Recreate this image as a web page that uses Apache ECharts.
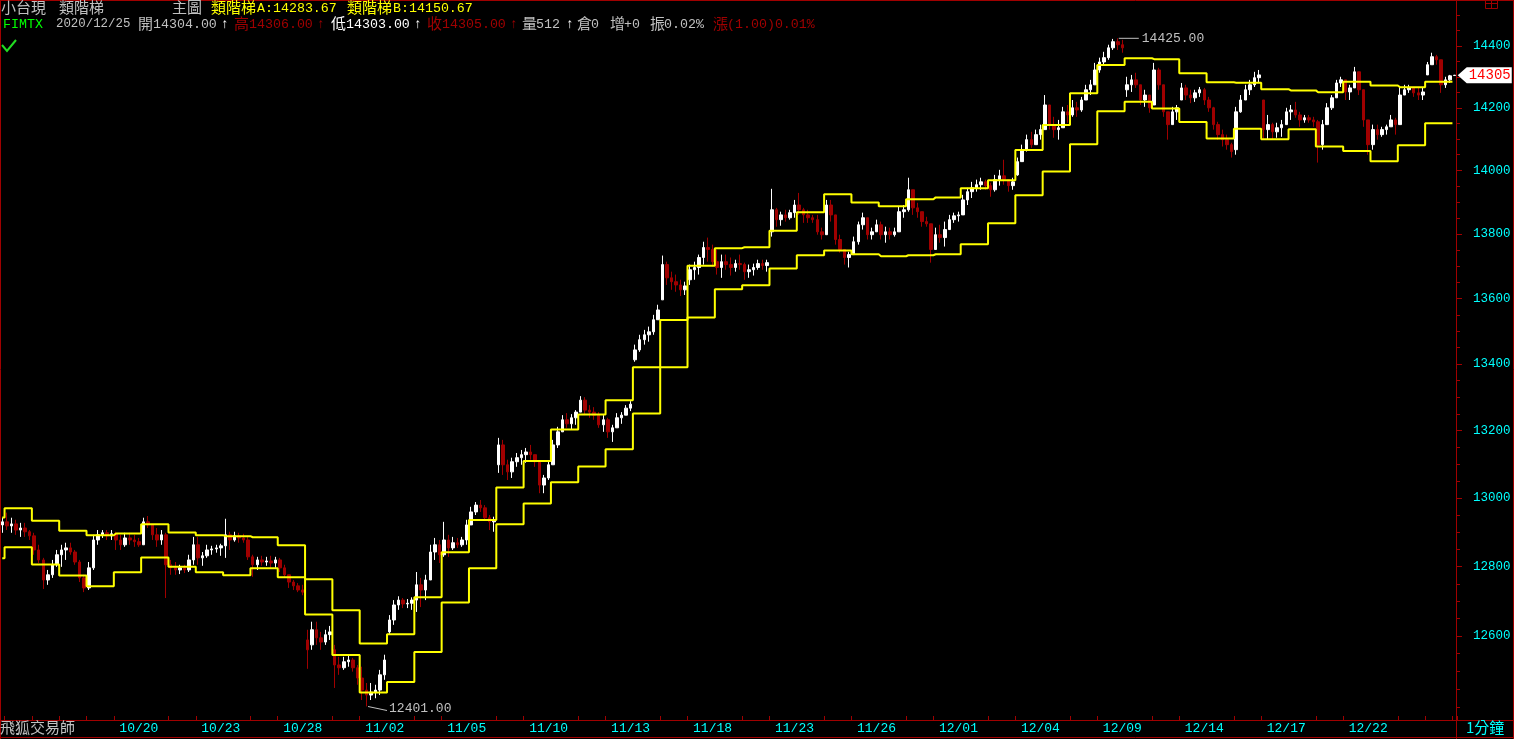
<!DOCTYPE html>
<html><head><meta charset="utf-8">
<script src="https://cdn.jsdelivr.net/npm/echarts@6/dist/echarts.min.js"></script>
<style>html,body{margin:0;padding:0;background:#000;overflow:hidden}#c{width:1514px;height:739px}</style>
</head><body><div id="c"></div>
<script>
// ---------- data ----------
const tradingDays = ['10/12','10/13','10/14','10/15','10/16','10/19','10/20','10/21','10/22','10/23','10/26','10/27','10/28','10/29','10/30',
 '11/02','11/03','11/04','11/05','11/06','11/09','11/10','11/11','11/12','11/13','11/16','11/17','11/18','11/19','11/20','11/23','11/24','11/25','11/26','11/27','11/30',
 '12/01','12/02','12/03','12/04','12/07','12/08','12/09','12/10','12/11','12/14','12/15','12/16','12/17','12/18','12/21','12/22','12/23','12/24','12/25'];
const xLabelDays = ['10/20','10/23','10/28','11/02','11/05','11/10','11/13','11/18','11/23','11/26','12/01','12/04','12/09','12/14','12/17','12/22'];
const yLabelValues = [12600,12800,13000,13200,13400,13600,13800,14000,14200,14400];
// 類階梯A / 類階梯B, one value per trading day
const stairA = [12943,12970,12933,12904,12891,12896,12923,12899,12891,12888,12885,12862,12662,12546,12440,12470,12555,12696,12795,12923,12984,13046,13093,13144,13251,13534,13701,13756,13759,13810,13868,13925,13899,13887,13909,13915,13944,13969,14065,14145,14247,14338,14360,14357,14311,14282,14281,14260,14256,14250,14284,14272,14266,14283.67,null];
const stairB = [12824,12856,12806,12774,12743,12783,12826,12799,12783,12775,12795,12769,12763,12674,12579,12605,12711,12841,12935,13031,13109,13203,13248,13291,13390,13390,13542,13629,13641,13693,13734,13749,13737,13731,13734,13737,13768,13834,13922,13997,14083,14189,14219,14198,14154,14102,14133,14099,14131,14076,14062,14029,14080,14150.67,null];
// candles [open, close, low, high]
const barsOct = [
[12921,12930,12898,12942],
[12930,12918,12906,12957],[12918,12924,12898,12942],[12924,12906,12892,12936],[12906,12912,12886,12927],[12912,12901,12886,12927],[12901,12889,12877,12906],
[12889,12848,12834,12898],[12848,12819,12810,12863],[12819,12761,12735,12825],[12761,12776,12747,12790],[12776,12805,12767,12819],[12805,12834,12799,12848],
[12834,12848,12799,12863],[12848,12854,12819,12869],[12854,12842,12834,12869],[12842,12813,12805,12848],[12813,12767,12755,12819],[12767,12738,12726,12776],
[12738,12796,12732,12813],[12796,12877,12790,12892],[12877,12892,12863,12906],[12892,12898,12883,12906],[12898,12889,12877,12906],[12889,12895,12877,12906],
[12895,12877,12848,12901],[12877,12863,12848,12892],[12863,12883,12857,12898],[12883,12877,12863,12898],[12877,12872,12857,12892],[12872,12863,12857,12883],
[12863,12930,12863,12942],[12930,12921,12912,12947],[12921,12892,12877,12921],[12892,12877,12857,12912],[12877,12892,12863,12906],[12892,12805,12709,12898],
[12805,12796,12776,12819],[12796,12790,12776,12813],[12790,12796,12778,12805],[12796,12790,12781,12805],[12790,12819,12784,12834],[12819,12863,12805,12886],
[12863,12825,12805,12886],[12825,12831,12802,12842],[12831,12848,12825,12863],[12848,12851,12834,12860],[12851,12854,12840,12863],[12854,12860,12831,12866],
[12860,12892,12825,12939],[12892,12877,12848,12901],[12877,12889,12872,12901],[12889,12883,12869,12898],[12883,12877,12869,12895],[12877,12828,12819,12889],
[12828,12805,12770,12834],[12805,12819,12790,12828],[12819,12813,12802,12831],[12813,12816,12802,12828],[12816,12810,12796,12831],[12810,12819,12796,12828],
[12819,12796,12784,12825],[12796,12776,12767,12805],[12776,12755,12738,12776],[12755,12744,12732,12761],[12744,12732,12726,12752],[12732,12726,12717,12747],
[12589,12561,12507,12618],[12575,12618,12561,12641],[12618,12595,12575,12641],[12595,12583,12561,12612],[12583,12604,12575,12618],[12604,12612,12589,12629],
[12561,12518,12453,12575],[12518,12510,12490,12541],[12510,12527,12504,12541],[12527,12532,12513,12547],[12532,12510,12499,12538],[12510,12481,12462,12518],
[12481,12447,12419,12513],[12447,12433,12401,12467],[12433,12441,12419,12467],[12441,12447,12424,12462],[12447,12490,12433,12504],[12490,12532,12476,12547]
];
const barsNov = [
[12612,12646,12604,12660],[12646,12689,12632,12703],[12689,12703,12675,12714],[12703,12692,12680,12709],[12692,12694,12680,12706],[12694,12703,12675,12711],
[12703,12747,12669,12784],[12747,12732,12683,12767],[12732,12761,12703,12776],[12761,12842,12761,12863],[12842,12863,12819,12883],[12863,12834,12810,12877],
[12834,12877,12828,12930],[12877,12854,12828,12892],[12854,12869,12848,12886],[12869,12863,12854,12883],[12863,12877,12857,12886],[12877,12921,12863,12936],
[12921,12959,12921,12974],[12959,12979,12950,12988],[12979,12971,12959,12994],[12971,12942,12936,12979],[12942,12930,12906,12950],[12930,12936,12901,12945],
[13098,13157,13074,13178],[13157,13098,13068,13172],[13098,13077,13053,13113],[13077,13107,13059,13119],[13107,13119,13092,13133],[13119,13128,13098,13142],
[13128,13136,13104,13148],[13136,13128,13113,13157],[13128,13107,13092,13128],[13107,13038,13014,13107],[13038,13059,13014,13068],[13059,13098,13053,13107],
[13098,13157,13098,13172],[13157,13196,13148,13211],[13196,13232,13196,13246],[13232,13220,13208,13252],[13220,13238,13202,13249],[13238,13255,13217,13261],
[13255,13291,13255,13303],[13291,13261,13246,13300],[13261,13255,13238,13276],[13255,13246,13232,13270],[13246,13217,13208,13255],[13217,13232,13196,13246],
[13232,13196,13178,13238],[13196,13208,13166,13217],[13208,13238,13208,13252],[13238,13246,13220,13255],[13246,13267,13246,13276],[13267,13279,13258,13288],
[13413,13443,13407,13459],[13443,13474,13437,13489],[13474,13489,13459,13504],[13489,13498,13468,13514],[13498,13535,13489,13550],[13535,13565,13535,13581],
[13596,13705,13596,13733],[13705,13664,13642,13714],[13664,13652,13627,13683],[13652,13642,13621,13674],[13642,13627,13608,13658],[13627,13639,13611,13652],
[13658,13689,13642,13705],[13689,13696,13658,13714],[13696,13727,13674,13736],[13727,13758,13705,13776],[13758,13752,13714,13789],[13752,13714,13699,13767],
[13714,13696,13674,13752],[13696,13714,13664,13736],[13714,13705,13689,13736],[13705,13696,13671,13727],[13696,13708,13683,13720],[13708,13705,13689,13736],
[13705,13683,13658,13711],[13683,13689,13664,13705],[13689,13696,13671,13708],[13696,13708,13689,13720],[13708,13702,13689,13720],[13702,13711,13683,13720],
[13807,13876,13792,13942],[13876,13845,13823,13882],[13845,13860,13826,13870],[13860,13851,13839,13876],[13851,13867,13845,13876],[13867,13891,13851,13907],
[13891,13876,13860,13929],[13876,13860,13835,13882],[13860,13851,13835,13876],[13851,13845,13835,13860],[13845,13807,13798,13860],[13807,13798,13783,13820],
[13798,13891,13798,13907],[13891,13860,13839,13907],[13860,13783,13767,13860],[13783,13752,13742,13798],[13752,13727,13705,13752],[13727,13736,13696,13745],
[13736,13776,13736,13792],[13776,13829,13767,13839],[13829,13851,13814,13867],[13851,13798,13783,13851],[13798,13807,13783,13820],[13807,13829,13807,13845],
[13829,13798,13783,13839],[13798,13807,13773,13823],[13807,13798,13783,13820],[13798,13807,13792,13820],[13807,13870,13807,13885],[13870,13876,13851,13891],
[13876,13939,13870,13977],[13939,13882,13860,13939],[13882,13870,13851,13898],[13870,13839,13823,13870],[13839,13832,13823,13854],[13832,13752,13711,13832],
[13752,13798,13752,13820],[13798,13789,13773,13829],[13789,13814,13761,13839],[13814,13845,13814,13860],[13845,13857,13835,13867],[13857,13860,13839,13870]
];
const barsDec = [
[13860,13907,13860,13923],[13907,13933,13891,13945],[13933,13945,13913,13964],[13945,13955,13933,13971],[13955,13964,13939,13977],[13964,13952,13939,13971],
[13952,13939,13917,13961],[13939,13971,13933,13986],[13971,13983,13952,14002],[13983,13971,13955,14034],[13971,13952,13933,13971],[13952,13964,13939,13977],
[13986,14028,13983,14041],[14028,14066,14028,14082],[14066,14098,14060,14114],[14098,14082,14072,14123],[14082,14114,14082,14130],[14114,14130,14098,14146],
[14130,14209,14130,14241],[14209,14146,14130,14209],[14146,14130,14104,14171],[14130,14136,14098,14161],[14136,14187,14136,14203],[14187,14177,14152,14209],
[14177,14200,14171,14225],[14200,14193,14171,14219],[14193,14225,14187,14235],[14225,14258,14225,14274],[14258,14274,14241,14290],[14274,14322,14274,14345],
[14322,14348,14313,14362],[14348,14362,14339,14381],[14362,14394,14355,14404],[14394,14414,14387,14423],[14414,14404,14387,14425],[14404,14394,14378,14420],
[14258,14274,14235,14300],[14274,14290,14251,14306],[14290,14274,14264,14313],[14274,14225,14209,14274],[14225,14241,14203,14258],[14241,14200,14184,14241],
[14209,14322,14209,14345],[14322,14274,14258,14329],[14274,14187,14171,14274],[14187,14146,14098,14187],[14146,14187,14146,14203],[14187,14200,14161,14209],
[14225,14264,14225,14280],[14264,14241,14225,14274],[14241,14232,14215,14258],[14232,14248,14219,14258],[14248,14258,14235,14267],[14258,14225,14209,14264],
[14225,14200,14187,14235],[14200,14146,14130,14203],[14146,14114,14098,14155],[14114,14098,14076,14130],[14098,14082,14066,14114],[14082,14060,14041,14088],
[14066,14187,14050,14203],[14187,14225,14184,14241],[14225,14258,14225,14274],[14258,14274,14241,14290],[14274,14297,14267,14316],[14297,14306,14280,14322],
[14225,14130,14098,14225],[14130,14146,14098,14177],[14146,14123,14098,14152],[14123,14136,14104,14152],[14136,14146,14107,14161],[14146,14187,14146,14200],
[14187,14193,14161,14209],[14193,14177,14168,14219],[14177,14161,14139,14187],[14161,14168,14152,14177],[14168,14161,14152,14177],[14161,14155,14139,14171],
[14155,14082,14025,14161],[14082,14146,14066,14161],[14146,14200,14146,14215],[14200,14232,14193,14241],[14232,14280,14232,14290],[14280,14290,14267,14300],
[14290,14251,14225,14290],[14251,14264,14225,14274],[14264,14316,14264,14332],[14316,14258,14241,14316],[14258,14161,14139,14258],[14161,14082,14050,14161],
[14082,14130,14066,14146],[14130,14114,14098,14146],[14114,14130,14107,14139],[14130,14139,14114,14146],[14139,14161,14139,14177],[14161,14146,14114,14168],
[14146,14241,14146,14267],[14241,14258,14241,14274],[14258,14264,14248,14274],[14264,14248,14235,14264],[14248,14241,14225,14264],[14241,14251,14225,14264],
[14306,14339,14306,14348],[14339,14365,14339,14378],[14365,14355,14339,14371],[14355,14274,14248,14355],[14274,14290,14264,14300],[14290,14303,14280,14306],
[14304,14305,14303,14306]
];
const headerInfo = {date:'2020/12/25', volume:'512', oi:'0', oiChg:'+0', amp:'0.02%', chg:'(1.00)0.01%'};

// ---------- build ----------
const slotsPerDay = 6;
const bars = barsOct.concat(barsNov, barsDec);
const lastDay = tradingDays.length - 1;
function dayOfSlot(k) { return k === 0 ? 0 : Math.min(lastDay, Math.floor((k - 1) / slotsPerDay) + 1); }
const categories = bars.map((b, k) => tradingDays[dayOfSlot(k)] + '|' + k);
const lineA = bars.map((b, k) => stairA[dayOfSlot(k)]);
const lineB = bars.map((b, k) => stairB[dayOfSlot(k)]);
const labelSlots = new Map();
xLabelDays.forEach(d => { const n = tradingDays.indexOf(d); labelSlots.set(slotsPerDay * (n - 1), d); });
const tickSlots = new Set();
for (let n = 1; n < tradingDays.length; n++) {
  if (xLabelDays.indexOf(tradingDays[n]) < 0) tickSlots.add(1 + slotsPerDay * (n - 1));
}
const minorTicks = [];
for (let v = 12400; v <= 14500; v += 50) minorTicks.push(v);
const last = bars[bars.length - 1];

const RED = '#a00000', FRAME = '#a00000', GRAY = '#c0c0c0', YEL = '#ffff00', CYAN = '#00ffff';
const MONO = "'Liberation Mono','DejaVu Sans Mono','Noto Sans CJK TC',monospace";
const CJK = "'Noto Sans CJK TC','Noto Sans CJK SC',sans-serif";
const YMIN = 12363, YMAX = 14544;

function txt(x, y, s, color, cjk, size) {
  return {type:'text', left:x, top:y, z:100, style:{text:s, fill:color, font:(size || (cjk ? 15 : 13.3)) + 'px ' + (cjk ? CJK : MONO)}};
}
const f2 = v => v.toFixed(2);
const header = [
  txt(1, 0, '小台現', GRAY, true), txt(59, 0, '類階梯', GRAY, true), txt(172, 0, '主圖', GRAY, true),
  txt(211, 0, '類階梯', YEL, true), txt(257, 2, 'A:' + f2(stairA[lastDay - 1]), YEL, false),
  txt(347, 0, '類階梯', YEL, true), txt(393, 2, 'B:' + f2(stairB[lastDay - 1]), YEL, false),
  txt(3, 18, 'FIMTX', '#00ff00', false), txt(56, 18, headerInfo.date, GRAY, false, 12.4),
  txt(138, 16, '開', GRAY, true), txt(153, 18, f2(last[0]), GRAY, false), txt(221, 18, '↑', '#ffffff', false),
  txt(234, 16, '高', RED, true), txt(249, 18, f2(last[3]), RED, false), txt(317, 18, '↑', RED, false),
  txt(331, 16, '低', '#ffffff', true), txt(346, 18, f2(last[2]), '#ffffff', false), txt(414, 18, '↑', '#ffffff', false),
  txt(427, 16, '收', RED, true), txt(442, 18, f2(last[1]), RED, false), txt(510, 18, '↑', RED, false),
  txt(522, 16, '量', GRAY, true), txt(536, 18, headerInfo.volume, GRAY, false), txt(566, 18, '↑', '#ffffff', false),
  txt(577, 16, '倉', GRAY, true), txt(591, 18, headerInfo.oi, GRAY, false),
  txt(610, 16, '增', GRAY, true), txt(624, 18, headerInfo.oiChg, GRAY, false),
  txt(650, 16, '振', GRAY, true), txt(664, 18, headerInfo.amp, GRAY, false),
  txt(713, 16, '漲', RED, true), txt(727, 18, headerInfo.chg, RED, false),
  txt(0, 720, '飛狐交易師', GRAY, true, 15),
  txt(1466, 720, '1分鐘', CYAN, true, 15)
];
function ln(x1, y1, x2, y2, c, w) { return {type:'line', z:90, shape:{x1, y1, x2, y2}, style:{stroke:c, lineWidth:w || 1}}; }
const frame = [
  ln(0, 0.5, 1514, 0.5, FRAME), ln(0.5, 0, 0.5, 739, FRAME), ln(1513.5, 0, 1513.5, 739, FRAME),
  ln(0, 720.5, 1514, 720.5, FRAME), ln(0, 737.5, 1514, 737.5, FRAME), ln(1456.5, 0, 1456.5, 739, FRAME),
  {type:'rect', z:90, shape:{x:1485.5, y:0.5, width:12, height:8}, style:{fill:'none', stroke:FRAME, lineWidth:1}},
  ln(1491.5, 0.5, 1491.5, 8.5, FRAME), ln(1485.5, 3.5, 1497.5, 3.5, FRAME),
  {type:'polyline', z:90, shape:{points:[[2,45],[7,51],[16,40]]}, style:{stroke:'#22dd22', lineWidth:2, fill:'none'}}
];

const chart = echarts.init(document.getElementById('c'), null, {renderer:'canvas'});
chart.setOption({
  backgroundColor:'#000000',
  animation:false,
  grid:{left:0, right:57, top:2, bottom:19, containLabel:false},
  xAxis:{
    type:'category', data:categories, boundaryGap:true,
    axisLine:{show:false},
    axisTick:{show:true, inside:true, length:4, interval:(i) => tickSlots.has(i), lineStyle:{color:FRAME}},
    axisLabel:{show:true, interval:(i) => labelSlots.has(i), formatter:(v, i) => labelSlots.get(i) || '', color:CYAN, fontFamily:MONO, fontSize:13, margin:2},
    splitLine:{show:false}
  },
  yAxis:[
    {type:'log', logBase:10, position:'right', min:YMIN, max:YMAX, scale:true,
     axisLine:{show:false}, splitLine:{show:false}, minorTick:{show:false}, minorSplitLine:{show:false},
     axisTick:{show:true, customValues:yLabelValues, length:5, lineStyle:{color:FRAME}},
     axisLabel:{show:true, customValues:yLabelValues, color:CYAN, fontFamily:MONO, fontSize:12.5, margin:16, formatter:(v) => String(Math.round(v))}},
    {type:'log', logBase:10, position:'right', min:YMIN, max:YMAX, scale:true,
     axisLine:{show:false}, splitLine:{show:false},
     axisTick:{show:true, customValues:minorTicks, length:3, lineStyle:{color:FRAME}},
     axisLabel:{show:false}}
  ],
  series:[
    {type:'candlestick', name:'小台現', data:bars, barWidth:3, clip:false, z:2,
     itemStyle:{color:'#ffffff', color0:'#a00000', borderColor:'#ffffff', borderColor0:'#a00000', borderWidth:1},
     markPoint:{
       silent:true, animation:false,
       data:[
         {type:'max', valueDim:'highest', symbol:'path://M0,0L20,0L20,1L0,1Z', symbolSize:[20,1], symbolOffset:[11,0],
          itemStyle:{color:GRAY},
          label:{show:true, position:'right', distance:3, color:GRAY, fontFamily:MONO, fontSize:13, formatter:(p) => f2(p.value)}},
         {type:'min', valueDim:'lowest', symbol:'path://M0,0L19,4L19,5L0,1Z', symbolSize:[19,5], symbolOffset:[11,2],
          itemStyle:{color:GRAY},
          label:{show:true, position:'right', distance:2, color:GRAY, fontFamily:MONO, fontSize:13, formatter:(p) => f2(p.value)}},
         {coord:[categories[categories.length - 1], last[1]], value:last[1],
          symbol:'path://M0,8L9,0L54,0L54,16L9,16Z', symbolSize:[54,16], symbolOffset:[30,0],
          itemStyle:{color:'#ffffff'},
          label:{show:true, position:'inside', offset:[5,0], color:'#ff0000', fontFamily:MONO, fontSize:14, formatter:(p) => String(Math.round(p.value))}}
       ]
     }},
    {type:'line', name:'類階梯A', data:lineA, step:'middle', symbol:'none', showSymbol:false, z:3,
     lineStyle:{color:YEL, width:2}, connectNulls:false},
    {type:'line', name:'類階梯B', data:lineB, step:'middle', symbol:'none', showSymbol:false, z:3,
     lineStyle:{color:YEL, width:2}, connectNulls:false}
  ],
  graphic: header.concat(frame)
});
</script></body></html>
